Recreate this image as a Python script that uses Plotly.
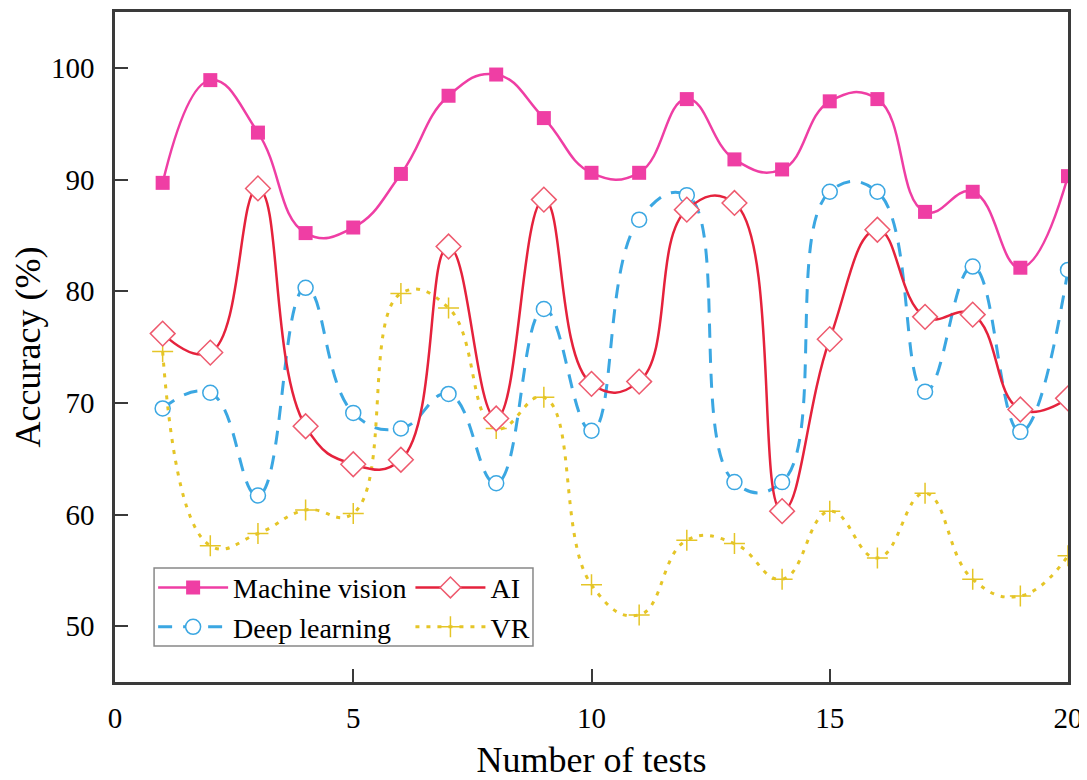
import plotly.graph_objects as go

tests = list(range(1, 21))
machine_vision = [89.7, 98.9, 94.2, 85.2, 85.7, 90.5, 97.5, 99.4, 95.5, 90.6,
                  90.6, 97.2, 91.8, 90.9, 97.0, 97.2, 87.1, 88.9, 82.1, 90.3]
ai = [76.2, 74.5, 89.2, 67.9, 64.5, 64.9, 84.0, 68.6, 88.2, 71.7,
      71.9, 87.3, 87.9, 60.3, 75.7, 85.5, 77.7, 77.9, 69.4, 70.4]
deep_learning = [69.5, 70.9, 61.7, 80.3, 69.1, 67.7, 70.8, 62.8, 78.4, 67.5,
                 86.4, 88.6, 62.9, 62.9, 88.9, 88.9, 71.0, 82.2, 67.4, 81.9]
vr = [74.6, 57.2, 58.3, 60.4, 60.1, 79.8, 78.5, 67.7, 70.5, 53.7,
      51.0, 57.7, 57.4, 54.2, 60.3, 56.1, 61.9, 54.2, 52.7, 56.3]

x_ticks = [0, 5, 10, 15, 20]
y_ticks = [50, 60, 70, 80, 90, 100]

FONT = "Liberation Serif, Times New Roman, serif"
C_MV = "#EF3EA4"
C_AI = "#E5223C"
C_AI_MK = "#EE5A6E"
C_DL = "#3BA7E2"
C_VR = "#E5C527"

fig = go.Figure()

fig.add_trace(go.Scatter(
    x=tests, y=deep_learning, name="Deep learning", mode="lines+markers",
    line=dict(color=C_DL, width=3, dash="14px,11px", shape="spline", smoothing=1.3),
    marker=dict(symbol="circle", size=15, color="white", line=dict(color=C_DL, width=1.5)),
    legend="legend"))
fig.add_trace(go.Scatter(
    x=tests, y=vr, name="VR", mode="lines+markers",
    line=dict(color=C_VR, width=3, dash="4px,7px", shape="spline", smoothing=1.3),
    marker=dict(symbol="cross-thin", size=15, color=C_VR, line=dict(color=C_VR, width=1.5)),
    legend="legend2"))
fig.add_trace(go.Scatter(
    x=tests, y=ai, name="AI", mode="lines+markers",
    line=dict(color=C_AI, width=2.5, shape="spline", smoothing=1.3),
    marker=dict(symbol="diamond", size=19, color="white", line=dict(color=C_AI_MK, width=1.5)),
    legend="legend2", legendrank=1))
fig.add_trace(go.Scatter(
    x=tests, y=machine_vision, name="Machine vision", mode="lines+markers",
    line=dict(color=C_MV, width=2.5, shape="spline", smoothing=1.3),
    marker=dict(symbol="square", size=14, color=C_MV),
    legend="legend", legendrank=1))

axis_common = dict(
    showline=True, linecolor="#3a3a3a", linewidth=2.5, mirror=True,
    ticks="inside", ticklen=13, tickwidth=2, tickcolor="#3a3a3a",
    showgrid=False, zeroline=False,
    tickfont=dict(family=FONT, size=29, color="black"),
)

fig.update_xaxes(range=[0, 20], tickvals=x_ticks, ticklabelstandoff=8,
                 title=dict(text="Number of tests", font=dict(family=FONT, size=36, color="black"),
                            standoff=20),
                 **axis_common)
fig.update_yaxes(range=[45, 105], tickvals=y_ticks, ticklabelstandoff=12,
                 title=dict(text="Accuracy (%)", font=dict(family=FONT, size=36, color="black"),
                            standoff=14),
                 **axis_common)

leg_common = dict(
    font=dict(family=FONT, size=28, color="black"),
    bgcolor="rgba(0,0,0,0)", borderwidth=0, itemwidth=70,
    orientation="v", yanchor="top", xanchor="left", tracegroupgap=0,
    traceorder="normal",
)
fig.update_layout(
    width=1079, height=772,
    margin=dict(l=107, r=19, t=4, b=98, autoexpand=False),
    paper_bgcolor="white", plot_bgcolor="white",
    showlegend=True,
    legend=dict(x=0.040, y=0.178, **leg_common),
    legend2=dict(x=0.310, y=0.178, **leg_common),
    shapes=[dict(type="rect", xref="paper", yref="paper",
                 x0=0.041, x1=0.4386, y0=0.0537, y1=0.170,
                 line=dict(color="#888888", width=1.5), fillcolor="white", layer="above")],
)

fig.write_html("out.html")
